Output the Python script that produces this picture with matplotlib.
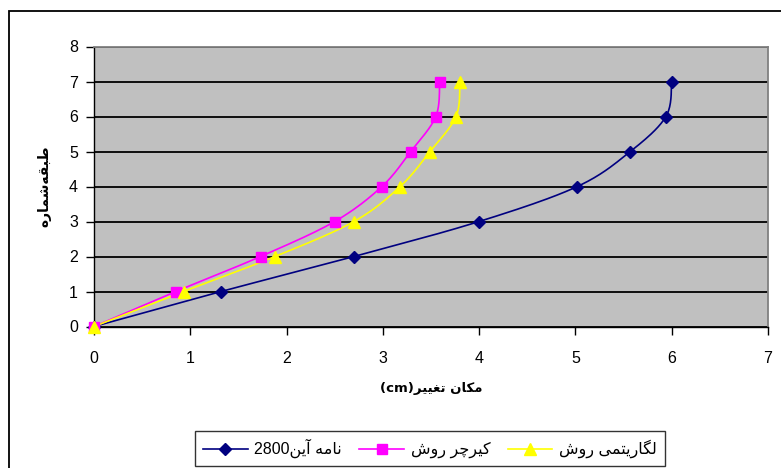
import numpy as np
import matplotlib
matplotlib.use("Agg")
import matplotlib.pyplot as plt
from matplotlib.patches import Rectangle

# ---- data -------------------------------------------------------------
floors = [0, 1, 2, 3, 4, 5, 6, 7]
disp_code2800 = [0, 1.32, 2.70, 4.00, 5.02, 5.57, 5.94, 6.00]
disp_kircher = [0, 0.85, 1.73, 2.50, 2.99, 3.29, 3.55, 3.59]
disp_log = [0, 0.93, 1.88, 2.70, 3.18, 3.49, 3.76, 3.80]

xticks = [0, 1, 2, 3, 4, 5, 6, 7]
yticks = [0, 1, 2, 3, 4, 5, 6, 7, 8]

# ---- minimal Persian shaping (presentation forms + RTL ordering) ------
FORMS = {
    'ا': ('\uFE8D', '\uFE8E', None, None),
    'آ': ('\uFE81', '\uFE82', None, None),
    'ب': ('\uFE8F', '\uFE90', '\uFE91', '\uFE92'),
    'ت': ('\uFE95', '\uFE96', '\uFE97', '\uFE98'),
    'د': ('\uFEA9', '\uFEAA', None, None),
    'ر': ('\uFEAD', '\uFEAE', None, None),
    'س': ('\uFEB1', '\uFEB2', '\uFEB3', '\uFEB4'),
    'ش': ('\uFEB5', '\uFEB6', '\uFEB7', '\uFEB8'),
    'ط': ('\uFEC1', '\uFEC2', '\uFEC3', '\uFEC4'),
    'غ': ('\uFECD', '\uFECE', '\uFECF', '\uFED0'),
    'ق': ('\uFED5', '\uFED6', '\uFED7', '\uFED8'),
    'ک': ('\uFB8E', '\uFB8F', '\uFB90', '\uFB91'),
    'گ': ('\uFB92', '\uFB93', '\uFB94', '\uFB95'),
    'ل': ('\uFEDD', '\uFEDE', '\uFEDF', '\uFEE0'),
    'م': ('\uFEE1', '\uFEE2', '\uFEE3', '\uFEE4'),
    'ن': ('\uFEE5', '\uFEE6', '\uFEE7', '\uFEE8'),
    'ه': ('\uFEE9', '\uFEEA', '\uFEEB', '\uFEEC'),
    'و': ('\uFEED', '\uFEEE', None, None),
    'ی': ('\uFBFC', '\uFBFD', '\uFBFE', '\uFBFF'),
    'چ': ('\uFB7A', '\uFB7B', '\uFB7C', '\uFB7D'),
}


def rtl(s):
    out = []
    for i, ch in enumerate(s):
        if ch not in FORMS:
            if ch != '\u200c':
                out.append(ch)
            continue
        prev = s[i - 1] if i > 0 else ''
        nxt = s[i + 1] if i + 1 < len(s) else ''
        join_prev = prev in FORMS and FORMS[prev][2] is not None
        join_next = nxt in FORMS and FORMS[ch][2] is not None
        iso, fin, ini, med = FORMS[ch]
        if join_prev and join_next:
            out.append(med)
        elif join_prev:
            out.append(fin)
        elif join_next:
            out.append(ini)
        else:
            out.append(iso)
    return ''.join(out[::-1])


def words(*ws):
    """Shape each word on its own and lay the words out left to right."""
    return ' '.join(rtl(w) for w in ws)


label_code = "2800" + words("آین", "نامه")
label_kircher = words("روش", "کیرچر")
label_log = words("روش", "لگاریتمی")
xlabel = "(cm)" + rtl("مکان تغییر")
ylabel = rtl("طبقه\u200cشماره")


def smooth(x, y, n=20):
    """Catmull-Rom curve through the given points (for line drawing)."""
    x = np.asarray(x, float)
    y = np.asarray(y, float)
    P = np.column_stack([x, y])
    P = np.vstack([P[0], P, P[-1]])
    pts = []
    t = np.linspace(0, 1, n, endpoint=False)[:, None]
    for i in range(1, len(P) - 2):
        p0, p1, p2, p3 = P[i - 1], P[i], P[i + 1], P[i + 2]
        seg = 0.5 * ((2 * p1) + (-p0 + p2) * t
                     + (2 * p0 - 5 * p1 + 4 * p2 - p3) * t ** 2
                     + (-p0 + 3 * p1 - 3 * p2 + p3) * t ** 3)
        pts.append(seg)
    pts.append(P[-2][None, :])
    pts = np.vstack(pts)
    return pts[:, 0], pts[:, 1]


# ---- figure -----------------------------------------------------------
W, H = 781, 468
fig = plt.figure(figsize=(W / 100, H / 100), dpi=100)
fig.patch.set_facecolor("white")

# outer chart border (runs off the right and bottom edges)
fig.add_artist(Rectangle((8.5 / W, -0.2), 1.2, 1 - 11 / H + 0.2,
                         transform=fig.transFigure, fill=False,
                         edgecolor="black", linewidth=1.3))

ax = fig.add_axes([94 / W, 1 - 326.5 / H, (768 - 94) / W, (326.5 - 46.5) / H])
ax.set_facecolor("#C0C0C0")
ax.set_xlim(0, 7)
ax.set_ylim(0, 8)
ax.set_xticks(xticks)
ax.set_yticks(yticks)

digit_font = ["Liberation Sans", "DejaVu Sans"]
for lab in ax.get_xticklabels() + ax.get_yticklabels():
    lab.set_family(digit_font)
    lab.set_fontsize(11.5)
ax.tick_params(axis="both", direction="out", length=5.5, width=1, color="black")
ax.tick_params(axis="x", pad=12)
ax.tick_params(axis="y", pad=6)

ax.yaxis.grid(True, color="black", linewidth=1.3)
ax.set_axisbelow(True)
for side in ("top", "right"):
    ax.spines[side].set_color("#808080")
    ax.spines[side].set_linewidth(1.3)
for side in ("left", "bottom"):
    ax.spines[side].set_color("black")
    ax.spines[side].set_linewidth(1.0)

series = [
    (disp_code2800, "#000080", "D", 6.5, label_code),
    (disp_kircher, "#FF00FF", "s", 6.5, label_kircher),
    (disp_log, "#FFFF00", "^", 8, label_log),
]
handles = []
for xs, col, mk, ms, lab in series:
    sx, sy = smooth(xs, floors)
    ax.plot(sx, sy, color=col, linewidth=1.2, zorder=3, clip_on=False)
    ax.plot(xs, floors, linestyle="none", marker=mk, markersize=ms,
            markerfacecolor=col, markeredgecolor=col, zorder=4, clip_on=False)
    h, = ax.plot([], [], color=col, linewidth=1.2, marker=mk, markersize=ms,
                 markerfacecolor=col, markeredgecolor=col)
    handles.append((h, lab))

ax.set_xlabel(xlabel, family=["DejaVu Sans"], fontweight="bold",
              fontsize=9.5, labelpad=12)
ax.set_ylabel(ylabel, family=["DejaVu Sans"], fontweight="bold",
              fontsize=10, labelpad=13)

leg = fig.legend([h for h, _ in handles], [l for _, l in handles],
                 loc="upper left", bbox_to_anchor=(195 / W, 1 - 431 / H),
                 borderaxespad=0, ncol=3, frameon=True, fancybox=False,
                 handlelength=2.8, handletextpad=0.4, columnspacing=1.1,
                 borderpad=0.5, prop={"family": digit_font, "size": 11.5})
leg.get_frame().set_edgecolor("black")
leg.get_frame().set_linewidth(1.0)

fig.savefig("out.png", dpi=100)
